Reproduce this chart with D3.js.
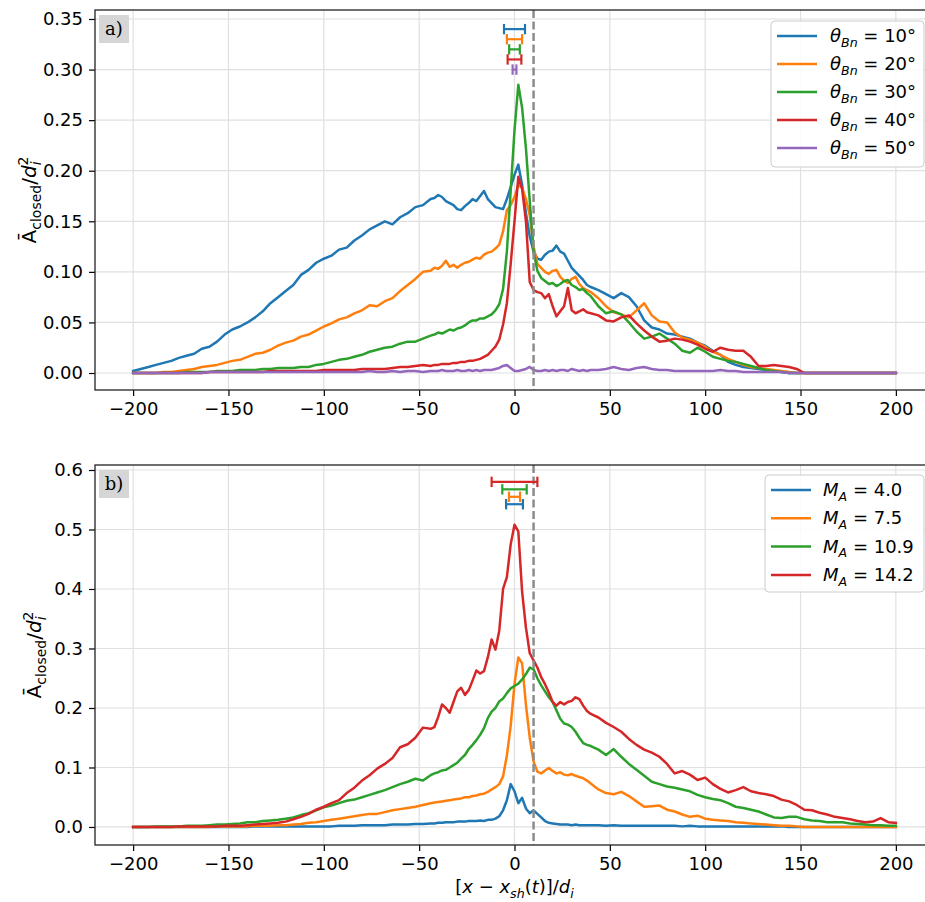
<!DOCTYPE html>
<html><head><meta charset="utf-8">
<script src="https://cdn.jsdelivr.net/npm/d3@7"></script>
<style>html,body{margin:0;padding:0;background:#fff;} svg{display:block;font-family:"DejaVu Sans",sans-serif;} text{white-space:pre;}</style>
</head><body><svg id="c" width="925" height="902"></svg>
<script>
// ---------- DATA ----------
const xGrid = [
 -200,-196,-192,-188,-184,-180,-176,-172,-168,-164,-160,-156,-152,-148,-144,-140,-136,-132,-128,-124,-120,-116,-112,-108,-104,-100,-96,-92,-88,-84,-80,-76,-72,-68,-64,-60,-56,-52,-48,-44,
 -42,-40,-38,-36,-34,-32,-30,-28,-26,-24,-22,-20,-18,-16,-14,-12,-10,-8,-6,-4,-2,0,2,4,6,8,10,12,14,16,18,20,22,24,26,28,30,32,34,36,38,40,
 44,48,52,56,60,64,68,72,76,80,84,88,92,96,100,104,108,112,116,120,124,128,132,136,140,144,148,152,156,160,164,168,172,176,180,184,188,192,196,200];

const xTicks = [-200,-150,-100,-50,0,50,100,150,200];
const yTicksA = [0,0.05,0.10,0.15,0.20,0.25,0.30,0.35];
const yTicksB = [0,0.1,0.2,0.3,0.4,0.5,0.6];
const shockX = 10;

const thetaLabels = ['10°','20°','30°','40°','50°'];
const machLabels = ['4.0','7.5','10.9','14.2'];

// panel a) theta_Bn series
const theta10 = [
 0.002,0.004,0.006,0.008,0.010,0.012,0.015,0.017,0.019,0.024,0.026,0.031,0.038,0.043,0.046,0.050,0.055,0.061,0.069,0.075,0.081,0.087,0.097,0.102,0.109,0.113,0.116,0.122,0.124,0.131,0.136,0.142,0.146,0.150,0.147,0.154,0.158,0.164,0.166,0.172,
 0.173,0.176,0.174,0.170,0.168,0.166,0.162,0.161,0.165,0.168,0.172,0.170,0.175,0.180,0.172,0.168,0.164,0.163,0.162,0.172,0.184,0.196,0.206,0.186,0.158,0.135,0.120,0.113,0.112,0.117,0.120,0.121,0.126,0.120,0.118,0.111,0.104,0.100,0.096,0.092,0.087,0.085,
 0.082,0.078,0.074,0.079,0.075,0.066,0.052,0.045,0.043,0.039,0.038,0.036,0.034,0.030,0.027,0.022,0.018,0.011,0.008,0.006,0.005,0.004,0.003,0.002,0.001,0,0,0,0,0,0,0,0,0,0,0,0,0,0,0];
const theta20 = [
 0,0,0,0,0.001,0.001,0.002,0.003,0.004,0.006,0.007,0.008,0.010,0.012,0.013,0.016,0.019,0.020,0.023,0.027,0.030,0.032,0.036,0.038,0.042,0.046,0.049,0.053,0.055,0.059,0.062,0.067,0.066,0.071,0.074,0.081,0.087,0.093,0.100,0.101,
 0.104,0.103,0.106,0.111,0.105,0.107,0.104,0.107,0.109,0.110,0.112,0.114,0.113,0.117,0.119,0.120,0.123,0.127,0.140,0.161,0.166,0.174,0.186,0.183,0.172,0.156,0.125,0.108,0.104,0.100,0.098,0.101,0.102,0.095,0.091,0.089,0.093,0.095,0.088,0.084,0.082,0.080,
 0.074,0.066,0.060,0.058,0.055,0.062,0.069,0.057,0.051,0.050,0.040,0.035,0.033,0.030,0.026,0.021,0.018,0.014,0.011,0.008,0.006,0.005,0.004,0.003,0.002,0.001,0,0,0,0,0,0,0,0,0,0,0,0,0,0];
const theta30 = [
 0,0,0,0,0,0,0,0.001,0.001,0.001,0.001,0.002,0.002,0.002,0.003,0.003,0.003,0.004,0.004,0.005,0.005,0.005,0.006,0.006,0.008,0.009,0.011,0.013,0.014,0.016,0.018,0.021,0.023,0.025,0.026,0.029,0.031,0.031,0.034,0.037,
 0.038,0.040,0.039,0.041,0.043,0.042,0.044,0.045,0.047,0.050,0.052,0.052,0.054,0.054,0.056,0.058,0.062,0.068,0.083,0.120,0.180,0.240,0.285,0.262,0.222,0.170,0.120,0.101,0.094,0.091,0.088,0.089,0.086,0.088,0.091,0.092,0.087,0.085,0.082,0.083,0.079,0.076,
 0.066,0.059,0.061,0.058,0.050,0.041,0.034,0.036,0.039,0.034,0.029,0.022,0.020,0.025,0.021,0.016,0.014,0.012,0.011,0.009,0.007,0.005,0.003,0.002,0.001,0,0,0,0,0,0,0,0,0,0,0,0,0,0,0];
const theta40 = [
 0,0,0,0,0,0,0,0,0,0,0.001,0.001,0.001,0.001,0.001,0.001,0.001,0.001,0.002,0.002,0.002,0.002,0.002,0.002,0.002,0.003,0.003,0.003,0.003,0.003,0.004,0.004,0.004,0.004,0.005,0.006,0.006,0.007,0.008,0.007,
 0.008,0.008,0.009,0.009,0.009,0.010,0.010,0.011,0.011,0.012,0.012,0.013,0.014,0.016,0.018,0.022,0.026,0.033,0.048,0.069,0.108,0.150,0.194,0.182,0.150,0.090,0.082,0.080,0.079,0.074,0.078,0.066,0.056,0.061,0.066,0.084,0.062,0.059,0.061,0.063,0.060,0.059,
 0.057,0.052,0.051,0.055,0.057,0.049,0.042,0.036,0.031,0.032,0.034,0.033,0.031,0.028,0.024,0.021,0.025,0.023,0.022,0.022,0.016,0.007,0.007,0.008,0.007,0.006,0.004,0,0,0,0,0,0,0,0,0,0,0,0,0];
const theta50 = [
 0,0,0,0,0,0,0,0,0,0,0.001,0.001,0.001,0.001,0.001,0.001,0.001,0.001,0.001,0.001,0.001,0.001,0.001,0.001,0.001,0.001,0.001,0.001,0.001,0.001,0.001,0.002,0.001,0.001,0.002,0.001,0.002,0.002,0.001,0.002,
 0.002,0.002,0.003,0.002,0.002,0.002,0.003,0.002,0.002,0.003,0.002,0.003,0.002,0.003,0.003,0.003,0.004,0.005,0.007,0.008,0.005,0.002,0.002,0.003,0.004,0.006,0.003,0.002,0.002,0.003,0.002,0.003,0.002,0.003,0.003,0.002,0.004,0.003,0.002,0.003,0.002,0.003,
 0.003,0.004,0.006,0.004,0.003,0.005,0.006,0.004,0.003,0.003,0.002,0.002,0.002,0.002,0.002,0.002,0.003,0.002,0.002,0.001,0.001,0.001,0.001,0.001,0.001,0,0,0,0,0,0,0,0,0,0,0,0,0,0,0];

// panel b) Alfven Mach number series
const mach40 = [
 0,0,0,0,0,0,0,0,0,0,0,0,0,0,0,0,0.001,0.001,0.001,0.001,0.001,0.001,0.001,0.001,0.001,0.001,0.001,0.002,0.002,0.002,0.003,0.003,0.003,0.003,0.004,0.004,0.004,0.005,0.005,0.006,
 0.006,0.007,0.007,0.008,0.008,0.008,0.009,0.009,0.009,0.010,0.010,0.010,0.011,0.010,0.012,0.012,0.014,0.018,0.028,0.045,0.072,0.060,0.040,0.049,0.031,0.023,0.028,0.022,0.016,0.010,0.007,0.006,0.005,0.004,0.004,0.004,0.003,0.004,0.003,0.003,0.003,0.003,
 0.003,0.002,0.003,0.002,0.002,0.002,0.002,0.002,0.002,0.002,0.002,0.001,0.002,0.001,0.001,0.001,0.001,0.001,0.001,0.001,0.001,0.001,0.001,0.001,0.001,0,0,0,0,0,0,0,0,0,0,0,0,0,0,0];
const mach75 = [
 0,0,0,0,0,0,0,0,0,0,0,0.001,0.001,0.001,0.001,0.001,0.002,0.002,0.002,0.003,0.003,0.004,0.005,0.007,0.008,0.010,0.012,0.014,0.016,0.018,0.020,0.022,0.022,0.025,0.028,0.030,0.032,0.034,0.037,0.040,
 0.041,0.042,0.043,0.044,0.045,0.046,0.047,0.048,0.050,0.050,0.052,0.053,0.055,0.056,0.059,0.063,0.067,0.072,0.085,0.120,0.170,0.240,0.285,0.275,0.205,0.150,0.110,0.093,0.090,0.095,0.099,0.094,0.090,0.092,0.088,0.087,0.089,0.086,0.084,0.082,0.078,0.073,
 0.063,0.057,0.055,0.059,0.052,0.043,0.034,0.035,0.036,0.029,0.026,0.021,0.017,0.019,0.014,0.012,0.011,0.010,0.008,0.007,0.006,0.005,0.004,0.003,0.002,0.002,0.001,0,0,0,0,0,0,0,0,0,0,0,0,0];
const mach109 = [
 0,0,0,0.001,0.001,0.001,0.001,0.002,0.002,0.002,0.003,0.004,0.004,0.005,0.006,0.008,0.008,0.010,0.011,0.012,0.014,0.016,0.020,0.023,0.028,0.033,0.036,0.040,0.044,0.046,0.050,0.054,0.058,0.062,0.067,0.072,0.076,0.081,0.078,0.087,
 0.090,0.092,0.095,0.096,0.100,0.104,0.108,0.115,0.121,0.131,0.138,0.146,0.155,0.166,0.183,0.194,0.200,0.211,0.216,0.225,0.233,0.237,0.241,0.248,0.257,0.268,0.265,0.250,0.238,0.228,0.218,0.210,0.196,0.182,0.174,0.172,0.168,0.160,0.150,0.141,0.138,0.136,
 0.130,0.121,0.131,0.118,0.106,0.096,0.086,0.076,0.072,0.068,0.066,0.063,0.060,0.054,0.050,0.047,0.045,0.040,0.034,0.032,0.029,0.026,0.021,0.016,0.015,0.017,0.017,0.013,0.011,0.010,0.008,0.008,0.008,0.006,0.005,0.004,0.003,0.003,0.002,0.002];
const mach142 = [
 0,0,0,0,0,0,0.001,0.001,0.001,0.001,0.001,0.001,0.002,0.002,0.002,0.003,0.004,0.005,0.006,0.007,0.009,0.013,0.017,0.022,0.029,0.034,0.040,0.045,0.057,0.066,0.078,0.087,0.098,0.106,0.116,0.134,0.139,0.150,0.167,0.165,
 0.168,0.185,0.206,0.200,0.192,0.210,0.228,0.234,0.222,0.230,0.246,0.263,0.258,0.262,0.285,0.315,0.298,0.330,0.400,0.420,0.475,0.508,0.497,0.395,0.335,0.292,0.280,0.268,0.252,0.240,0.226,0.210,0.204,0.210,0.206,0.210,0.212,0.218,0.215,0.204,0.195,0.190,
 0.184,0.175,0.168,0.160,0.148,0.138,0.130,0.125,0.118,0.106,0.090,0.094,0.088,0.079,0.083,0.072,0.064,0.058,0.062,0.067,0.060,0.057,0.055,0.052,0.046,0.043,0.037,0.029,0.028,0.024,0.021,0.017,0.015,0.013,0.010,0.008,0.009,0.015,0.008,0.007];

// error bars (shock-position spread)
const errA_y = [0.34,0.33,0.32,0.31,0.30];
const errA_center = [0,0,0,0,0];
const errA_half = [5.5,4.0,2.8,3.6,1.0];
const errB_y = [0.5425,0.555,0.5675,0.58];
const errB_center = [0,0,0,0];
const errB_half = [4.4,2.9,6.4,12.0];

const colors = ['#1f77b4','#ff7f0e','#2ca02c','#d62728','#9467bd'];

// ---------- DRAWING ----------
const svg = d3.select('#c');
const FS = 18;
const FSL = 20;

function rich(textSel, parts, fs) {
  let off = 0;
  parts.forEach(p => {
    const ts = textSel.append('tspan').text(p.t);
    let target = 0, size = fs;
    if (p.s === 'sub') { target = 0.26 * fs; size = 0.7 * fs; }
    if (p.s === 'sup') { target = -0.42 * fs; size = 0.7 * fs; }
    ts.attr('font-size', size);
    if (target !== off) { ts.attr('dy', target - off); off = target; }
    if (p.i) ts.attr('font-style', 'italic');
    if (p.dx) ts.attr('dx', p.dx);
  });
}

const fmtMinus = s => String(s).replace('-', '\u2212');

function drawPanel(o) {
  const g = svg.append('g');
  const x = d3.scaleLinear().domain([-220, 220]).range([95, 934]);
  const y = d3.scaleLinear().domain(o.yDomain).range([o.bottom, o.top]);
  const clipId = 'clip' + o.id;
  svg.append('clipPath').attr('id', clipId).append('rect')
    .attr('x', 95).attr('y', o.top).attr('width', 839).attr('height', o.bottom - o.top);

  // grid
  const grid = g.append('g').attr('stroke', '#e0e0e0').attr('stroke-width', 1.2);
  grid.selectAll('line.gx').data(xTicks).join('line').attr('class', 'gx')
    .attr('x1', d => x(d)).attr('x2', d => x(d)).attr('y1', o.top).attr('y2', o.bottom);
  grid.selectAll('line.gy').data(o.yTicks).join('line').attr('class', 'gy')
    .attr('x1', 95).attr('x2', 934).attr('y1', d => y(d)).attr('y2', d => y(d));

  // curves
  const plot = g.append('g').attr('clip-path', `url(#${clipId})`);
  const line = d3.line().x((d, j) => x(xGrid[j])).y(d => y(d));
  o.series.forEach((s, i) => {
    plot.append('path').datum(s).attr('d', line).attr('fill', 'none')
      .attr('stroke', colors[i]).attr('stroke-width', 2.5)
      .attr('stroke-linejoin', 'round').attr('stroke-linecap', 'square');
  });

  // shock position
  plot.append('line').attr('x1', x(shockX)).attr('x2', x(shockX))
    .attr('y1', o.top).attr('y2', o.bottom)
    .attr('stroke', '#8c8c8c').attr('stroke-width', 2.5).attr('stroke-dasharray', '8,3.5');

  // error bars
  o.errY.forEach((ev, i) => {
    const c = o.errC[i], h = o.errH[i], yy = y(ev);
    const eg = g.append('g').attr('stroke', colors[i]).attr('stroke-width', 2.2);
    eg.append('line').attr('x1', x(c - h)).attr('x2', x(c + h)).attr('y1', yy).attr('y2', yy);
    [c - h, c + h].forEach(v => eg.append('line').attr('x1', x(v)).attr('x2', x(v)).attr('y1', yy - 5.2).attr('y2', yy + 5.2));
  });

  // axes
  const xa = g.append('g').attr('transform', `translate(0,${o.bottom})`)
    .call(d3.axisBottom(x).tickValues(xTicks).tickSize(6).tickPadding(6).tickFormat(d => fmtMinus(d)));
  xa.select('.domain').remove();
  xa.attr('font-size', FS).attr('font-family', '"DejaVu Sans", sans-serif');
  xa.selectAll('line').attr('stroke', '#000').attr('stroke-width', 1.2);
  xa.selectAll('text').attr('fill', '#000');

  const ya = g.append('g').attr('transform', `translate(95,0)`)
    .call(d3.axisLeft(y).tickValues(o.yTicks).tickSize(6).tickPadding(6).tickFormat(d3.format(o.yFmt)));
  ya.select('.domain').remove();
  ya.attr('font-size', FS).attr('font-family', '"DejaVu Sans", sans-serif');
  ya.selectAll('line').attr('stroke', '#000').attr('stroke-width', 1.2);
  ya.selectAll('text').attr('fill', '#000');

  // frame
  g.append('rect').attr('x', 95).attr('y', o.top).attr('width', 839).attr('height', o.bottom - o.top)
    .attr('fill', 'none').attr('stroke', '#222').attr('stroke-width', 1.3);

  // panel tag
  g.append('rect').attr('x', 99).attr('y', o.top + 5).attr('width', 30).attr('height', 28).attr('fill', '#d6d6d6');
  g.append('text').attr('x', 114).attr('y', o.top + 25).attr('text-anchor', 'middle')
    .attr('font-family', '"DejaVu Serif", serif').attr('font-size', 18).text(o.tag);

  // y label
  const yl = g.append('text').attr('transform', `translate(${o.ylabX},${(o.top + o.bottom) / 2}) rotate(-90)`)
    .attr('text-anchor', 'middle').attr('font-size', FSL);
  rich(yl, [{t: 'Ā'}, {t: 'closed', s: 'sub'}, {t: '/'}, {t: 'd', i: 1}, {t: 'i', i: 1, s: 'sub'}, {t: '2', s: 'sup', dx: -4}], FSL);

  // legend
  const L = o.legend;
  g.append('rect').attr('x', L.x).attr('y', L.y).attr('width', L.w).attr('height', L.h).attr('rx', 4)
    .attr('fill', '#fff').attr('fill-opacity', 0.85).attr('stroke', '#cccccc').attr('stroke-width', 1);
  L.labels.forEach((lab, i) => {
    const cy = L.y + L.first + i * L.step;
    g.append('line').attr('x1', L.x + 6).attr('x2', L.x + 46).attr('y1', cy).attr('y2', cy)
      .attr('stroke', colors[i]).attr('stroke-width', 2.5);
    const t = g.append('text').attr('x', L.x + L.tx).attr('y', cy + 6).attr('font-size', FS);
    rich(t, L.parts(lab), FS);
  });
}

drawPanel({
  id: 'a', top: 10, bottom: 390, yDomain: [-0.0168, 0.3589], yTicks: yTicksA, yFmt: '.2f',
  series: [theta10, theta20, theta30, theta40, theta50],
  errY: errA_y, errC: errA_center, errH: errA_half, tag: 'a)', ylabX: 36,
  legend: {x: 771, y: 21, w: 153, h: 146, first: 15, step: 28, tx: 59, labels: thetaLabels,
    parts: lab => [{t: 'θ', i: 1}, {t: 'Bn', i: 1, s: 'sub'}, {t: ' = ' + lab}]}
});

drawPanel({
  id: 'b', top: 465, bottom: 845, yDomain: [-0.0303, 0.6084], yTicks: yTicksB, yFmt: '.1f',
  series: [mach40, mach75, mach109, mach142],
  errY: errB_y, errC: errB_center, errH: errB_half, tag: 'b)', ylabX: 41,
  legend: {x: 765, y: 475, w: 159, h: 117, first: 15, step: 28.3, tx: 58, labels: machLabels,
    parts: lab => [{t: 'M', i: 1}, {t: 'A', i: 1, s: 'sub'}, {t: ' = ' + lab}]}
});

// x label
const xl = svg.append('text').attr('x', 514.5).attr('y', 893).attr('text-anchor', 'middle').attr('font-size', FS);
rich(xl, [{t: '['}, {t: 'x', i: 1}, {t: ' − '}, {t: 'x', i: 1}, {t: 'sh', i: 1, s: 'sub'}, {t: '('}, {t: 't', i: 1}, {t: ')]/'}, {t: 'd', i: 1}, {t: 'i', i: 1, s: 'sub'}], FS);
</script></body></html>
